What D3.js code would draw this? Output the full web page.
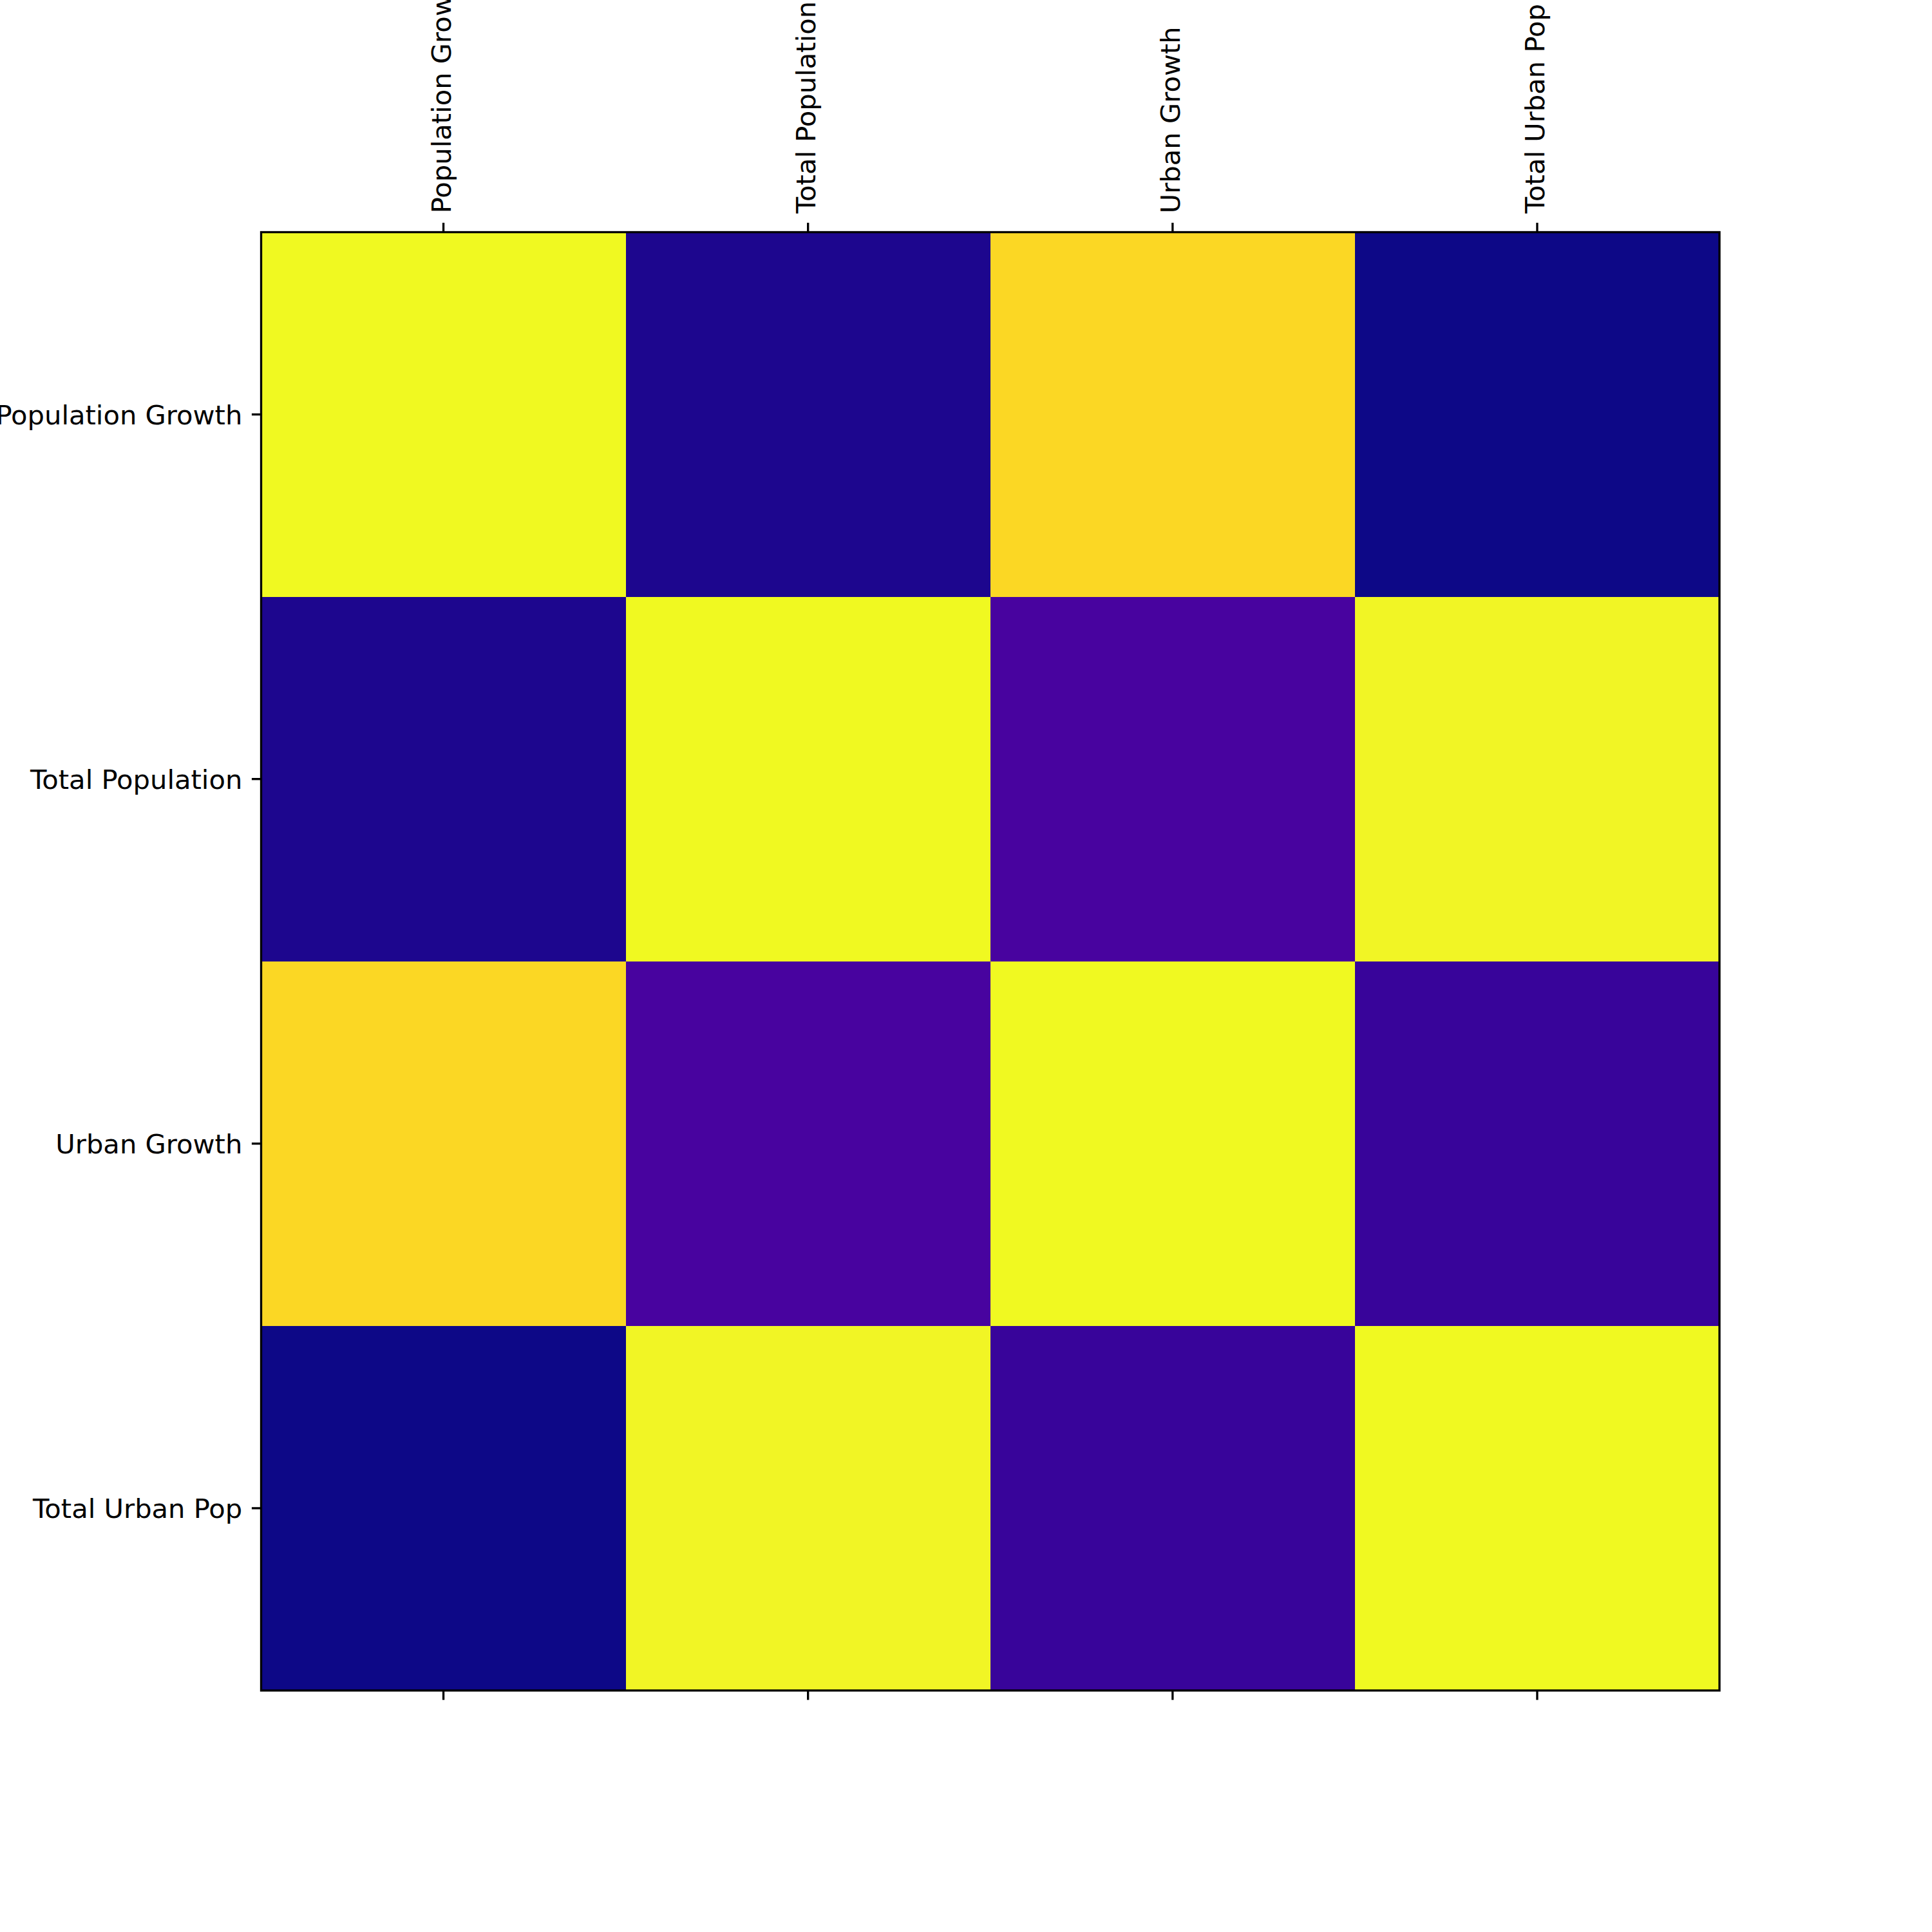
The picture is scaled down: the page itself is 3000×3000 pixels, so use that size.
<!DOCTYPE html>
<html>
<head>
<meta charset="utf-8">
<script src="https://cdn.jsdelivr.net/npm/d3@7"></script>
<style>
  html, body { margin: 0; padding: 0; background: #ffffff; }
  svg { display: block; }
</style>
</head>
<body>
<svg id="chart" width="3000" height="3000"></svg>
<script>
// Data: correlation matrix (rows/columns in the same order)
const variables = ["Population Growth", "Total Population", "Urban Growth", "Total Urban Pop"];
const rowPopulationGrowth = [1.00, -0.09, 0.91, -0.12];
const rowTotalPopulation  = [-0.09, 1.00, 0.01, 0.99];
const rowUrbanGrowth      = [0.91, 0.01, 1.00, -0.03];
const rowTotalUrbanPop    = [-0.12, 0.99, -0.03, 1.00];
const matrix = [rowPopulationGrowth, rowTotalPopulation, rowUrbanGrowth, rowTotalUrbanPop];

(function () {
const cells = [];
matrix.forEach((row, i) => row.forEach((v, j) => cells.push({ row: variables[i], col: variables[j], value: v })));

const x0 = 405.5, y0 = 360.5, size = 2264.5;
const fontPx = 41.67, tickLen = 14.6, pad = 14.6, lw = 3.33;

const svg = d3.select("#chart");
svg.append("rect").attr("width", 3000).attr("height", 3000).attr("fill", "#ffffff");

const x = d3.scaleBand().domain(variables).range([x0, x0 + size]).padding(0);
const y = d3.scaleBand().domain(variables).range([y0, y0 + size]).padding(0);

const allVals = matrix.flat();
const color = d3.scaleSequential(d3.interpolatePlasma).domain([d3.min(allVals), d3.max(allVals)]);

svg.append("g").selectAll("rect").data(cells).join("rect")
  .attr("x", d => x(d.col))
  .attr("y", d => y(d.row))
  .attr("width", x.bandwidth() + 0.5)
  .attr("height", y.bandwidth() + 0.5)
  .attr("fill", d => color(d.value))
  .attr("shape-rendering", "crispEdges");

// Spine
svg.append("rect")
  .attr("x", x0).attr("y", y0).attr("width", size).attr("height", size)
  .attr("fill", "none").attr("stroke", "#000").attr("stroke-width", lw);

function styleAxis(g) {
  g.select(".domain").remove();
  g.selectAll(".tick line").attr("stroke", "#000").attr("stroke-width", lw);
  g.selectAll(".tick text")
    .attr("font-family", "DejaVu Sans, sans-serif")
    .attr("font-size", fontPx)
    .attr("fill", "#000");
}

// Top axis with rotated labels
const topAxisG = svg.append("g").attr("transform", `translate(0,${y0})`)
  .call(d3.axisTop(x).tickSize(tickLen).tickSizeOuter(0).tickPadding(pad));
styleAxis(topAxisG);
topAxisG.selectAll(".tick text")
  .attr("transform", `translate(0,${-(tickLen + pad)}) rotate(-90)`)
  .attr("x", 0).attr("y", 0).attr("dy", "0.27em")
  .attr("text-anchor", "start");

// Left axis
const leftAxisG = svg.append("g").attr("transform", `translate(${x0},0)`)
  .call(d3.axisLeft(y).tickSize(tickLen).tickSizeOuter(0).tickPadding(pad));
styleAxis(leftAxisG);
leftAxisG.selectAll(".tick text").attr("dy", "0.36em");

// Bottom axis: ticks only
const bottomAxisG = svg.append("g").attr("transform", `translate(0,${y0 + size})`)
  .call(d3.axisBottom(x).tickSize(tickLen).tickSizeOuter(0).tickFormat(""));
styleAxis(bottomAxisG);
})();
</script>
</body>
</html>
